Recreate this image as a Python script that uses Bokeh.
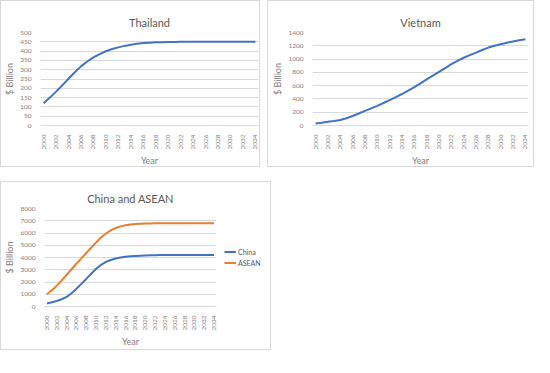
from bokeh.plotting import figure
from bokeh.models import Range1d, FixedTicker, Legend, LegendItem
from bokeh.layouts import column, row
from bokeh.embed import file_html
from bokeh.resources import INLINE
from math import pi

years = list(range(2000, 2035))
tick_years = list(range(2000, 2035, 2))

thailand = [120, 150, 182, 216, 251, 286, 318, 344, 366, 384, 399, 411, 420, 428, 434,
            439, 443, 445, 447, 448, 449, 449, 450, 450, 450, 450, 450, 450, 450, 450,
            450, 450, 450, 450, 450]
vietnam = [30, 42, 55, 67, 82, 110, 143, 180, 220, 257, 296, 339, 383, 428, 474, 525,
           577, 635, 694, 750, 806, 865, 923, 972, 1020, 1060, 1097, 1137, 1173, 1200,
           1224, 1246, 1265, 1283, 1298]
china = [250, 340, 450, 590, 780, 1080, 1450, 1850, 2250, 2680, 3080, 3400, 3640, 3800,
         3920, 4000, 4060, 4100, 4130, 4150, 4170, 4180, 4190, 4195, 4200, 4200, 4200,
         4200, 4200, 4200, 4200, 4200, 4200, 4200, 4200]
asean = [1000, 1320, 1700, 2130, 2580, 3040, 3500, 3930, 4370, 4800, 5230, 5630, 5960,
         6220, 6410, 6540, 6630, 6690, 6730, 6755, 6770, 6780, 6790, 6795, 6800, 6800,
         6800, 6800, 6800, 6800, 6800, 6800, 6800, 6800, 6800]

FONT = "Lato"
GRAY = "#595959"
LGRAY = "#7f7f7f"
GRID = "#d9d9d9"
BLUE = "#4472C4"
ORANGE = "#ED7D31"
BORDER = {"border": "1px solid #d9d9d9"}


def make_fig(title, w, h, ymax, ystep, left, right, top, bottom):
    p = figure(width=w, height=h, output_backend="svg", toolbar_location=None,
               x_range=Range1d(1999.5, 2034.5), y_range=Range1d(0, ymax),
               min_border_left=left, min_border_right=right,
               min_border_top=top, min_border_bottom=bottom,
               title=title)
    p.title.align = "center"
    p.title.text_font = FONT
    p.title.text_font_size = "11px"
    p.title.text_font_style = "normal"
    p.title.text_color = GRAY
    p.title.standoff = 8
    p.outline_line_color = None
    p.xgrid.grid_line_color = None
    p.ygrid.grid_line_color = GRID
    p.xaxis.ticker = FixedTicker(ticks=tick_years)
    p.yaxis.ticker = FixedTicker(ticks=list(range(0, ymax + 1, ystep)))
    p.xaxis.major_label_orientation = pi / 2
    for ax in (p.xaxis, p.yaxis):
        ax.major_tick_line_color = None
        ax.minor_tick_line_color = None
        ax.major_label_text_font = FONT
        ax.major_label_text_font_size = "6.5px"
        ax.major_label_text_color = LGRAY
        ax.axis_label_text_font = FONT
        ax.axis_label_text_font_size = "9px"
        ax.axis_label_text_font_style = "normal"
        ax.axis_label_text_color = LGRAY
        ax.major_label_standoff = 3
        ax.axis_label_standoff = 2
    p.yaxis.axis_line_color = None
    p.xaxis.axis_line_color = GRID
    p.xaxis.axis_label = "Year"
    p.yaxis.axis_label = "$ Billion"
    return p


p1 = make_fig("Thailand", 260, 167, 500, 50, 36, 3, 28, 40)
p1.styles = BORDER
p1.line(years, thailand, line_color=BLUE, line_width=2)

p2 = make_fig("Vietnam", 267, 167, 1400, 200, 44, 7, 31, 43)
p2.styles = BORDER
p2.line(years, vietnam, line_color=BLUE, line_width=2)

p3 = make_fig("China and ASEAN", 217, 167, 8000, 1000, 37, 2, 26, 36)
p3.line(years, china, line_color=BLUE, line_width=2)
p3.line(years, asean, line_color=ORANGE, line_width=2)

# legend panel to the right of the China/ASEAN plot (sample lines lie off-range)
lf = figure(width=52, height=167, output_backend="svg", toolbar_location=None,
            min_border_left=0, min_border_right=0, min_border_bottom=0,
            min_border_top=24, x_range=Range1d(0, 1), y_range=Range1d(0, 1))
lf.outline_line_color = None
lf.axis.visible = False
lf.grid.grid_line_color = None
lc = lf.line([5, 6], [5, 6], line_color=BLUE, line_width=2)
la = lf.line([5, 6], [5, 6], line_color=ORANGE, line_width=2)
legend = Legend(items=[LegendItem(label="China", renderers=[lc]),
                       LegendItem(label="ASEAN", renderers=[la])],
                location="center_left", border_line_color=None,
                background_fill_alpha=0, label_text_font=FONT,
                label_text_font_size="7px", label_text_color=GRAY,
                glyph_width=12, glyph_height=8, label_standoff=2,
                spacing=3, padding=0, margin=6, label_height=8)
lf.add_layout(legend, "center")

bottom_row = row(p3, lf, styles=BORDER)
layout = column(row(p1, p2, spacing=7), bottom_row, spacing=14)

open("out.html", "w").write(file_html(layout, INLINE))
